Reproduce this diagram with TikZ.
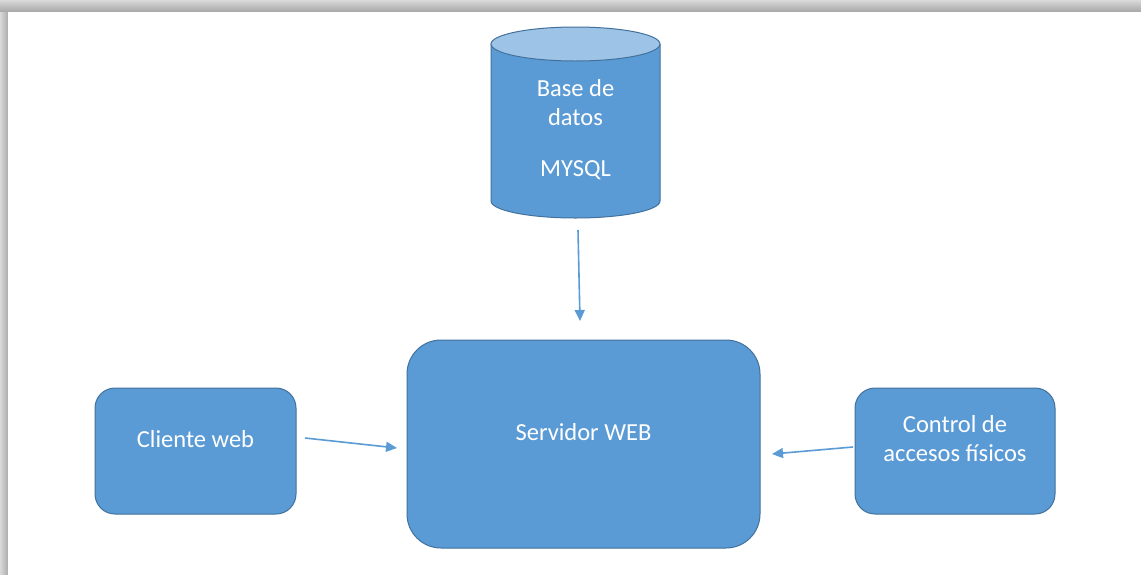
\documentclass[tikz,border=0pt]{standalone}
\usepackage{fontspec}
\setmainfont{Carlito}
\usetikzlibrary{arrows.meta,shapes.geometric}
\definecolor{boxfill}{HTML}{5B9BD5}
\definecolor{boxedge}{HTML}{41719C}
\definecolor{captop}{HTML}{9DC3E6}
\tikzset{
  x=1pt, y=-1pt,
  block/.style={draw=boxedge, line width=1pt, fill=boxfill, rounded corners=#1},
  label/.style={text=white, font=\fontsize{24.5}{29}\selectfont, align=center, inner sep=0pt},
  link/.style={draw=boxfill, line width=1.6pt, -{Triangle[length=11pt,width=10pt]}}
}
\begin{document}
\begin{tikzpicture}
\useasboundingbox (0,0) rectangle (1141,574);
\fill[white] (0,0) rectangle (1141,574);
% page shadow along top and left edges
\shade[top color=gray!30, bottom color=gray!70] (0,0) rectangle (1141,12);
\shade[left color=gray!30, right color=gray!65] (0,12) rectangle (8,574);
\fill[white] (8,12) rectangle (1141,574);

% database cylinder
\filldraw[boxedge, fill=boxfill, line width=1pt] (491,44) -- (491,201)
  arc[start angle=180, end angle=0, x radius=84.5, y radius=17] -- (660,44);
\draw[boxedge, line width=1pt, fill=captop] (575.5,44) ellipse[x radius=84.5, y radius=17];
\node[label] (db) at (575.5,103) {Base de\\datos};
\node[label] (dbname) at (575.5,170) {MYSQL};
\coordinate (dbout) at (578,230);

% servers and clients
\draw[block=34pt] (407,340) rectangle (760,548);
\node[label] (srv) at (583.5,432) {Servidor WEB};
\draw[block=20pt] (95,388) rectangle (296,514);
\node[label] (cli) at (195.5,439) {Cliente web};
\draw[block=20pt] (855,388) rectangle (1055,514);
\node[label] (ctl) at (955,439) {Control de\\accesos físicos};

\coordinate (cliout) at (305,438);
\coordinate (srvin1) at (397,448);
\coordinate (ctlout) at (853,447);
\coordinate (srvin2) at (772,454);
\coordinate (srvtop) at (580,321);

\draw[link] (dbout) -- (srvtop);
\draw[link] (cliout) -- (srvin1);
\draw[link] (ctlout) -- (srvin2);
\end{tikzpicture}
\end{document}
